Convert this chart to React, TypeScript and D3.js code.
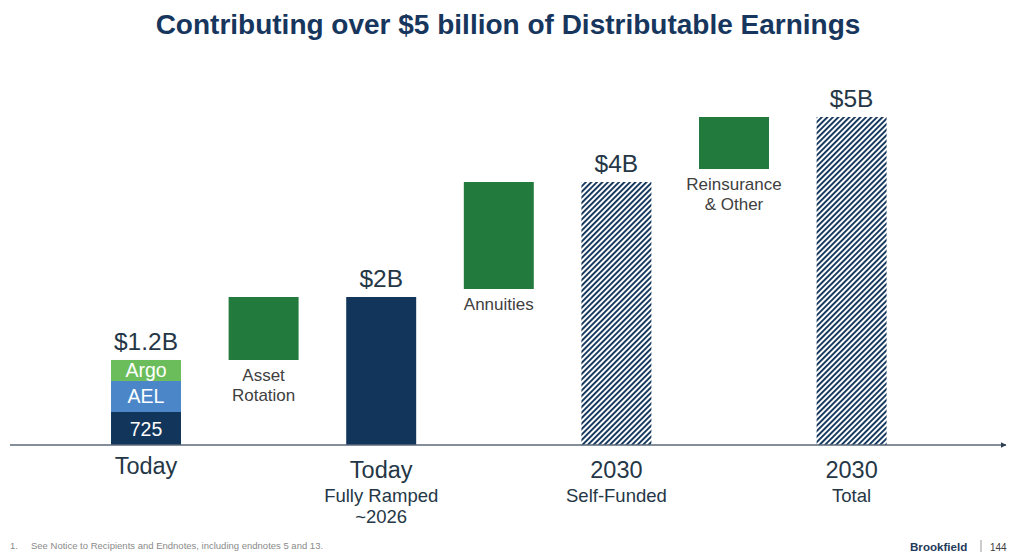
import React from "react";
import * as d3 from "d3";

const W = 1024;
const H = 559;

const title = "Contributing over $5 billion of Distributable Earnings";

// Columns of the waterfall (visual values in $ billions)
const columns = ["c0", "c1", "c2", "c3", "c4", "c5", "c6"];

// Stacked "Today" bar
const stackNames = ["725", "AEL", "Argo"];
const stackStart = [0, 0.503, 0.976];
const stackEnd = [0.503, 0.976, 1.296];
const stackColors = ["#12355b", "#4a86c8", "#6bbd5b"];

// Floating green steps
const stepColumn = ["c1", "c3", "c5"];
const stepStart = [1.296, 2.378, 4.207];
const stepEnd = [2.256, 4.009, 5.0];
const stepLabels = [["Asset", "Rotation"], ["Annuities"], ["Reinsurance", "& Other"]];

// Totals
const totalColumn = ["c0", "c2", "c4", "c6"];
const totalValue = [1.296, 2.256, 4.009, 5.0];
const totalLabel = ["$1.2B", "$2B", "$4B", "$5B"];
const totalHatched = [false, false, true, true];

// Category labels under axis
const catColumn = ["c0", "c2", "c4", "c6"];
const catMain = ["Today", "Today", "2030", "2030"];
const catSub = [[], ["Fully Ramped", "~2026"], ["Self-Funded"], ["Total"]];

const NAVY = "#12355b";
const GREEN = "#237a3d";
const FONT = "'Liberation Sans', Arial, sans-serif";

export default function App() {
  const x = d3
    .scaleBand<string>()
    .domain(columns)
    .range([87.2, 910.4])
    .paddingInner(0.405)
    .paddingOuter(0.2025);
  const y = d3.scaleLinear().domain([0, 5]).range([445, 117]);
  const bw = x.bandwidth();
  const cx = (c: string) => (x(c) as number) + bw / 2;

  return (
    <svg
      width={W}
      height={H}
      style={{ position: "absolute", left: 0, top: 0, background: "#fff" }}
      fontFamily={FONT}
    >
      <defs>
        <pattern
          id="hatch"
          patternUnits="userSpaceOnUse"
          width={3.9}
          height={3.9}
          patternTransform="rotate(45)"
        >
          <rect x={0} y={0} width={3.9} height={3.9} fill="#fff" />
          <rect x={0} y={0} width={1.9} height={3.9} fill={NAVY} />
        </pattern>
        <marker
          id="arrow"
          viewBox="0 0 10 10"
          refX={9}
          refY={5}
          markerWidth={6}
          markerHeight={6}
          orient="auto"
          markerUnits="userSpaceOnUse"
        >
          <path d="M0,0 L10,5 L0,10 z" fill="#2f3f55" />
        </marker>
      </defs>

      <text
        x={508}
        y={34}
        textAnchor="middle"
        fontSize={28}
        fontWeight="bold"
        fill="#17365d"
      >
        {title}
      </text>

      {/* stacked today bar */}
      {stackNames.map((n, i) => {
        const y0 = y(stackStart[i]);
        const y1 = y(stackEnd[i]);
        return (
          <g key={n}>
            <rect x={x("c0")} y={y1} width={bw} height={y0 - y1} fill={stackColors[i]} />
            <text
              x={cx("c0")}
              y={(y0 + y1) / 2 + 7}
              textAnchor="middle"
              fontSize={19.5}
              fill="#fff"
            >
              {n}
            </text>
          </g>
        );
      })}

      {/* green steps */}
      {stepColumn.map((c, i) => {
        const y0 = y(stepStart[i]);
        const y1 = y(stepEnd[i]);
        return (
          <g key={c}>
            <rect x={x(c)} y={y1} width={bw} height={y0 - y1} fill={GREEN} />
            {stepLabels[i].map((t, j) => (
              <text
                key={t}
                x={cx(c)}
                y={y0 + 21 + j * 20}
                textAnchor="middle"
                fontSize={17}
                fill="#404040"
              >
                {t}
              </text>
            ))}
          </g>
        );
      })}

      {/* totals */}
      {totalColumn.map((c, i) => {
        const top = y(totalValue[i]);
        return (
          <g key={c}>
            {i > 0 && (
              <rect
                x={x(c)}
                y={top}
                width={bw}
                height={y(0) - top}
                fill={totalHatched[i] ? "url(#hatch)" : NAVY}
              />
            )}
            <text
              x={cx(c)}
              y={top - 10}
              textAnchor="middle"
              fontSize={24.5}
              fill="#253746"
            >
              {totalLabel[i]}
            </text>
          </g>
        );
      })}

      {/* axis */}
      <line
        x1={10}
        x2={1006}
        y1={y(0)}
        y2={y(0)}
        stroke="#5b6878"
        strokeWidth={1.5}
        markerEnd="url(#arrow)"
      />

      {/* category labels */}
      {catColumn.map((c, i) => (
        <g key={c}>
          <text
            x={cx(c)}
            y={i === 0 ? 474 : 478}
            textAnchor="middle"
            fontSize={23.5}
            fill="#253746"
          >
            {catMain[i]}
          </text>
          {catSub[i].map((t, j) => (
            <text
              key={t}
              x={cx(c)}
              y={502 + j * 21}
              textAnchor="middle"
              fontSize={18.5}
              fill="#253746"
            >
              {t}
            </text>
          ))}
        </g>
      ))}

      {/* footer */}
      <text x={10} y={549} fontSize={9.5} fill="#8a8a8a">
        1.
      </text>
      <text x={31} y={549} fontSize={9.5} fill="#8a8a8a">
        See Notice to Recipients and Endnotes, including endnotes 5 and 13.
      </text>
      <text x={910} y={551} fontSize={11.6} fontWeight="bold" fill="#1f3a5a">
        Brookfield
      </text>
      <line x1={981} x2={981} y1={540} y2={552} stroke="#9a9a9a" strokeWidth={1} />
      <text x={990} y={551} fontSize={10} fill="#404040">
        144
      </text>
    </svg>
  );
}
